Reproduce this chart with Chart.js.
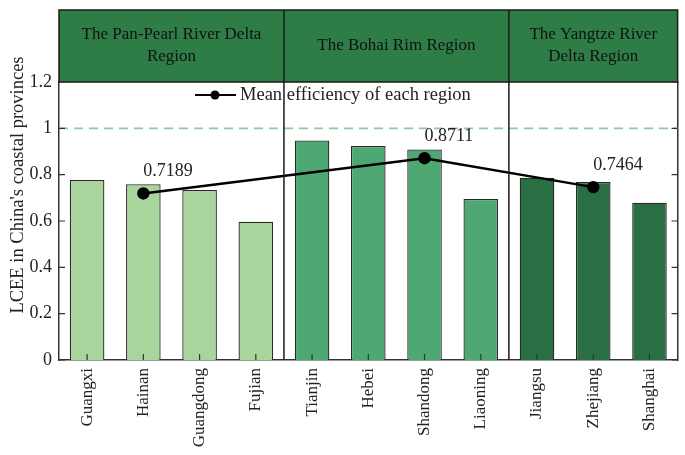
<!DOCTYPE html>
<html>
<head>
<meta charset="utf-8">
<script src="https://cdn.jsdelivr.net/npm/chart.js@4/dist/chart.umd.min.js"></script>
<style>
  html, body { margin: 0; padding: 0; background: #fff; }
  #box { width: 685px; height: 455px; }
</style>
</head>
<body>
<div id="box"><canvas id="grafico"></canvas></div>
<script>
const provinces = ["Guangxi", "Hainan", "Guangdong", "Fujian", "Tianjin", "Hebei", "Shandong", "Liaoning", "Jiangsu", "Zhejiang", "Shanghai"];
const lcee = [0.777, 0.759, 0.734, 0.597, 0.948, 0.924, 0.909, 0.695, 0.787, 0.768, 0.679];
const regionMean = [null, 0.7189, null, null, null, null, 0.8711, null, null, 0.7464, null];
const regionNames = [["The Pan-Pearl River Delta", "Region"], ["The Bohai Rim Region"], ["The Yangtze River", "Delta Region"]];
const regionSize = [4, 4, 3];
const yTicks = [0, 0.2, 0.4, 0.6, 0.8, 1, 1.2];

const regionColors = ["#a8d59c", "#4ea872", "#2a6e43"];
let barColors = [];
regionSize.forEach((n, r) => { for (let i = 0; i < n; i++) barColors.push(regionColors[r]); });

const serif = "'Liberation Serif', 'DejaVu Serif', serif";
const frame = "#333333";

// cabecalho, divisorias, ticks internos, legenda e rotulos
const extras = {
    id: "extras",
    afterDatasetsDraw(chart) {
        const ctx = chart.ctx;
        const a = chart.chartArea;
        const x = chart.scales.x;
        const y = chart.scales.y;
        const headTop = a.top - 72;

        // linha de referencia em 1
        ctx.save();
        ctx.strokeStyle = "#8dc9a6";
        ctx.lineWidth = 1.6;
        ctx.setLineDash([9, 6]);
        ctx.beginPath();
        ctx.moveTo(a.left, y.getPixelForValue(1));
        ctx.lineTo(a.right, y.getPixelForValue(1));
        ctx.stroke();
        ctx.restore();

        // fronteiras das regioes
        let bounds = [a.left];
        let acc = 0;
        regionSize.forEach((n, r) => {
            acc += n;
            bounds.push(r < regionSize.length - 1 ? x.getPixelForValue(acc - 0.5) : a.right);
        });

        ctx.save();
        ctx.fillStyle = "#2e7d46";
        ctx.fillRect(a.left, headTop, a.right - a.left, a.top - headTop);
        ctx.strokeStyle = "#1a1a1a";
        ctx.lineWidth = 1.5;
        ctx.strokeRect(a.left, headTop, a.right - a.left, a.top - headTop);
        for (let i = 1; i < bounds.length - 1; i++) {
            ctx.beginPath();
            ctx.moveTo(bounds[i], headTop);
            ctx.lineTo(bounds[i], a.bottom);
            ctx.stroke();
        }
        ctx.fillStyle = "#111";
        ctx.font = "17px " + serif;
        ctx.textAlign = "center";
        ctx.textBaseline = "middle";
        regionNames.forEach((lines, r) => {
            const cx = (bounds[r] + bounds[r + 1]) / 2;
            const cy = (headTop + a.top) / 2;
            lines.forEach((t, k) => {
                ctx.fillText(t, cx, cy + (k - (lines.length - 1) / 2) * 22);
            });
        });
        ctx.restore();

        // ticks para dentro
        ctx.save();
        ctx.strokeStyle = frame;
        ctx.lineWidth = 1.2;
        yTicks.forEach(v => {
            const py = y.getPixelForValue(v);
            ctx.beginPath();
            ctx.moveTo(a.left, py); ctx.lineTo(a.left + 6, py);
            ctx.moveTo(a.right, py); ctx.lineTo(a.right - 6, py);
            ctx.stroke();
        });
        provinces.forEach((p, i) => {
            const px = x.getPixelForValue(i);
            ctx.beginPath();
            ctx.moveTo(px, a.bottom); ctx.lineTo(px, a.bottom - 6);
            ctx.stroke();
        });
        ctx.restore();

        // rotulos dos valores medios
        const meta = chart.getDatasetMeta(1);
        ctx.save();
        ctx.fillStyle = "#222";
        ctx.font = "18px " + serif;
        ctx.textAlign = "left";
        ctx.textBaseline = "middle";
        meta.data.forEach((pt, i) => {
            if (regionMean[i] === null) return;
            ctx.fillText(regionMean[i].toFixed(4), pt.x, pt.y - 22);
        });
        ctx.restore();

        // legenda
        ctx.save();
        const ly = a.top + 13;
        ctx.strokeStyle = "#000";
        ctx.lineWidth = 2.2;
        ctx.beginPath();
        ctx.moveTo(195, ly); ctx.lineTo(236, ly);
        ctx.stroke();
        ctx.fillStyle = "#000";
        ctx.beginPath();
        ctx.arc(215, ly, 4.5, 0, Math.PI * 2);
        ctx.fill();
        ctx.fillStyle = "#222";
        ctx.font = "18.5px " + serif;
        ctx.textBaseline = "middle";
        ctx.fillText(chart.data.datasets[1].label, 240, ly);
        ctx.restore();

        // titulo do eixo y
        ctx.save();
        ctx.translate(18, (headTop + a.bottom) / 2);
        ctx.rotate(-Math.PI / 2);
        ctx.fillStyle = "#222";
        ctx.font = "18.5px " + serif;
        ctx.textAlign = "center";
        ctx.textBaseline = "middle";
        ctx.fillText("LCEE in China's coastal provinces", 0, 0);
        ctx.restore();
    }
};

const ctx = document.getElementById("grafico");

new Chart(ctx, {
    type: "bar",
    data: {
        labels: provinces,
        datasets: [{
            label: "LCEE",
            data: lcee,
            backgroundColor: barColors,
            borderColor: "#2a2a2a",
            borderWidth: 1.3,
            categoryPercentage: 1,
            barPercentage: 0.615,
            order: 2
        }, {
            type: "line",
            label: "Mean efficiency of each region",
            data: regionMean,
            spanGaps: true,
            borderColor: "#000",
            borderWidth: 2.4,
            backgroundColor: "#000",
            pointRadius: 5,
            pointBackgroundColor: "#000",
            tension: 0,
            order: 1
        }]
    },
    options: {
        responsive: true,
        maintainAspectRatio: false,
        animation: false,
        layout: { padding: { top: 82, right: 6, left: 0, bottom: 0 } },
        plugins: {
            legend: { display: false },
            tooltip: { enabled: false }
        },
        scales: {
            x: {
                grid: { display: false, drawTicks: false },
                border: { display: true, color: frame, width: 1.5 },
                ticks: {
                    minRotation: 90,
                    maxRotation: 90,
                    padding: 8,
                    color: "#222",
                    font: { family: serif, size: 17 }
                },
                afterFit(scale) { scale.height = 95; }
            },
            y: {
                min: 0,
                max: 1.2,
                grid: { display: false, drawTicks: false },
                border: { display: true, color: frame, width: 1.5 },
                ticks: {
                    stepSize: 0.2,
                    padding: 7,
                    color: "#222",
                    font: { family: serif, size: 18 },
                    callback: v => String(Number(v.toFixed(1)))
                },
                afterFit(scale) { scale.width = 59; }
            },
            y2: {
                position: "right",
                min: 0,
                max: 1.2,
                grid: { display: false, drawTicks: false },
                border: { display: true, color: frame, width: 1.5 },
                ticks: { display: false },
                afterFit(scale) { scale.width = 0; }
            }
        }
    },
    plugins: [extras]
});
</script>
</body>
</html>
